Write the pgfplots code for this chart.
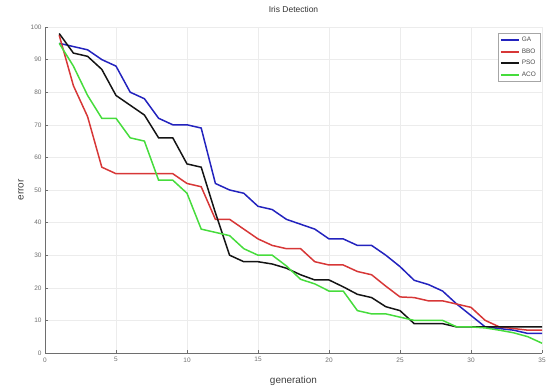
\documentclass[border=0pt]{standalone}
\usepackage{fontspec}
\setmainfont{Liberation Sans}
\usepackage{pgfplots}
\pgfplotsset{compat=1.18}
\definecolor{gaBlue}{RGB}{35,35,190}
\definecolor{bboRed}{RGB}{215,55,55}
\definecolor{psoBlack}{RGB}{20,20,20}
\definecolor{acoGreen}{RGB}{70,220,60}
\definecolor{tickgray}{RGB}{110,110,110}
\begin{document}
\begin{tikzpicture}
\useasboundingbox (-45bp,-36bp) rectangle (502bp,353bp);
\begin{axis}[
  at={(0,0)}, anchor=south west,
  scale only axis, width=497bp, height=326bp,
  xmin=0, xmax=35, ymin=0, ymax=100,
  xtick={0,5,...,35}, ytick={0,10,...,100},
  axis lines*=left,
  axis line style={tickgray, line width=0.5pt},
  tick style={tickgray, line width=0.4pt},
  major tick length=3bp,
  tick align=inside,
  grid=major,
  grid style={gray!15, line width=0.5pt},
  tick label style={font=\fontsize{6.5}{7}\selectfont, text=tickgray},
  /pgf/number format/assume math mode=true,
  xticklabel style={yshift=-1bp},
  title={Iris Detection},
  title style={font=\fontsize{8.5}{10}\selectfont, text=black!80, at={(axis description cs:0.5,1)}, anchor=center, yshift=12bp},
  xlabel={generation},
  ylabel={error},
  xlabel style={font=\fontsize{10}{12}\selectfont, text=black!75, at={(axis description cs:0.5,0)}, anchor=center, yshift=-28bp},
  ylabel style={font=\fontsize{10}{12}\selectfont, text=black!75, at={(axis description cs:0,0.5)}, anchor=center, yshift=24bp},
  legend style={at={(axis description cs:0.996,0.982)}, anchor=north east, font=\fontsize{6.5}{7}\selectfont,
    draw=gray!70, fill=white, inner sep=2bp, row sep=1.5bp, text=black!70},
  legend image code/.code={\draw[#1, line width=2pt] (0bp,0bp) -- (18bp,0bp);},
  legend cell align=left,
]
\addplot[color=gaBlue, line width=1.5pt] coordinates {
(1,95)(2,94)(3,93)(4,90)(5,88)(6,80)(7,78)(8,72)(9,70)(10,70)(11,69)(12,52)(13,50)(14,49)(15,45)(16,44)(17,41)(18,39.5)(19,38)(20,35)(21,35)(22,33)(23,33)(24,30)(25,26.5)(26,22.3)(27,21)(28,19)(29,15)(30,11.5)(31,8)(32,7.5)(33,7)(34,6)(35,6)};
\addlegendentry{GA}
\addplot[color=bboRed, line width=1.5pt] coordinates {
(1,97.5)(2,82)(3,72.5)(4,57)(5,55)(6,55)(7,55)(8,55)(9,55)(10,52)(11,51)(12,41)(13,41)(14,38)(15,35)(16,33)(17,32)(18,32)(19,28)(20,27)(21,27)(22,25)(23,24)(24,20.5)(25,17.2)(26,17)(27,16)(28,16)(29,15)(30,14)(31,10)(32,8)(33,7.5)(34,7)(35,7)};
\addlegendentry{BBO}
\addplot[color=psoBlack, line width=1.5pt] coordinates {
(1,98)(2,92)(3,91)(4,87)(5,79)(6,76)(7,73)(8,66)(9,66)(10,58)(11,57)(12,43)(13,30)(14,28)(15,28)(16,27.3)(17,26)(18,24)(19,22.4)(20,22.4)(21,20.3)(22,18)(23,17)(24,14.2)(25,13)(26,9)(27,9)(28,9)(29,8)(30,8)(31,8)(32,8)(33,8)(34,8)(35,8)};
\addlegendentry{PSO}
\addplot[color=acoGreen, line width=1.5pt] coordinates {
(1,95)(2,88)(3,79)(4,72)(5,72)(6,66)(7,65)(8,53)(9,53)(10,49)(11,38)(12,37)(13,36)(14,32)(15,30)(16,30)(17,26.7)(18,22.6)(19,21.2)(20,19)(21,19)(22,13)(23,12)(24,12)(25,11)(26,10)(27,10)(28,10)(29,8)(30,8)(31,7.7)(32,7)(33,6.2)(34,5)(35,3)};
\addlegendentry{ACO}
\end{axis}
\end{tikzpicture}
\end{document}
